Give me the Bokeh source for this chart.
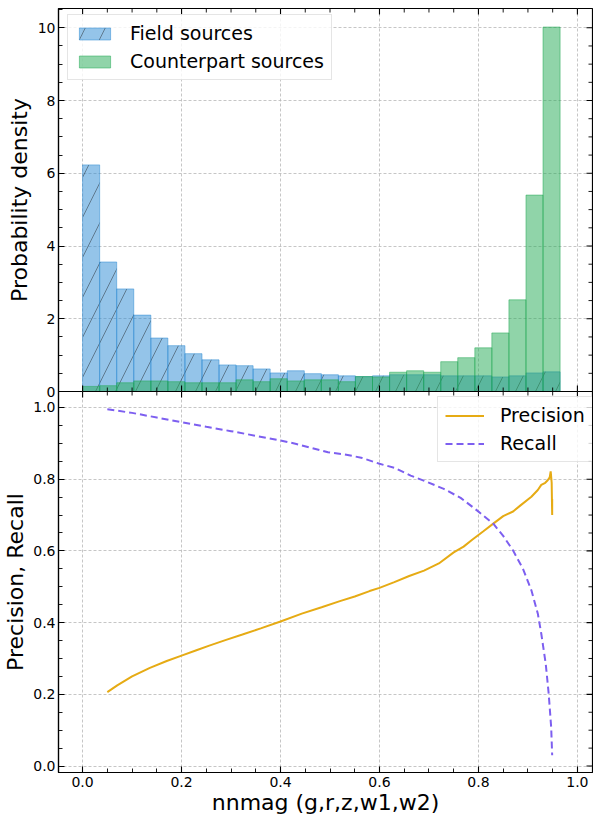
import math
from bokeh.plotting import figure
from bokeh.models import (Range1d, LinearAxis, Legend, LegendItem, Grid,
                          SingleIntervalTicker, FixedTicker, NumeralTickFormatter)
from bokeh.layouts import column
from bokeh.embed import file_html
from bokeh.resources import INLINE

# ---------------- data ----------------
bin_edges = [0.0, 0.0345, 0.0689, 0.1034, 0.1379, 0.1723, 0.2068, 0.2413,
             0.2757, 0.3102, 0.3446, 0.3791, 0.4136, 0.4480, 0.4825, 0.5170,
             0.5514, 0.5859, 0.6204, 0.6548, 0.6893, 0.7238, 0.7582, 0.7927,
             0.8271, 0.8616, 0.8961, 0.9305, 0.9650]
field_density = [6.23, 3.56, 2.82, 2.10, 1.47, 1.26, 1.04, 0.87, 0.73, 0.71,
                 0.62, 0.51, 0.57, 0.49, 0.46, 0.43, 0.41, 0.43, 0.46, 0.46,
                 0.46, 0.43, 0.43, 0.43, 0.40, 0.43, 0.51, 0.54]
counterpart_density = [0.14, 0.16, 0.24, 0.29, 0.29, 0.27, 0.24, 0.24, 0.24,
                       0.32, 0.27, 0.35, 0.29, 0.32, 0.32, 0.27, 0.41, 0.40,
                       0.53, 0.57, 0.53, 0.82, 0.93, 1.20, 1.61, 2.52, 5.40,
                       10.02]

prec_x = [0.050, 0.070, 0.100, 0.136, 0.170, 0.200, 0.230, 0.256, 0.290,
          0.323, 0.360, 0.400, 0.443, 0.483, 0.520, 0.550, 0.580, 0.600,
          0.630, 0.660, 0.690, 0.720, 0.750, 0.770, 0.788, 0.810, 0.830,
          0.850, 0.870, 0.885, 0.907, 0.920, 0.927, 0.935, 0.940, 0.944,
          0.946, 0.948, 0.949, 0.949]
prec_y = [0.206, 0.225, 0.250, 0.274, 0.293, 0.308, 0.323, 0.336, 0.352,
          0.367, 0.384, 0.403, 0.425, 0.443, 0.460, 0.473, 0.488, 0.497,
          0.513, 0.530, 0.545, 0.565, 0.596, 0.612, 0.632, 0.655, 0.676,
          0.697, 0.710, 0.727, 0.751, 0.770, 0.784, 0.790, 0.797, 0.805,
          0.822, 0.790, 0.700, 0.745]

rec_x = [0.050, 0.100, 0.150, 0.200, 0.250, 0.300, 0.350, 0.400, 0.430,
         0.496, 0.530, 0.563, 0.600, 0.630, 0.663, 0.697, 0.730, 0.764,
         0.797, 0.830, 0.850, 0.870, 0.890, 0.907, 0.920, 0.927, 0.936,
         0.942, 0.947, 0.949]
rec_y = [0.995, 0.985, 0.972, 0.959, 0.946, 0.934, 0.921, 0.908, 0.899,
         0.875, 0.869, 0.860, 0.843, 0.832, 0.810, 0.792, 0.773, 0.748,
         0.713, 0.676, 0.642, 0.601, 0.550, 0.490, 0.425, 0.369, 0.285,
         0.201, 0.108, 0.030]

# tick positions
x_major_ticks = [0.0, 0.2, 0.4, 0.6, 0.8, 1.0]
x_minor_ticks = [0.05, 0.1, 0.15, 0.25, 0.3, 0.35, 0.45, 0.5, 0.55, 0.65,
                 0.7, 0.75, 0.85, 0.9, 0.95]
top_y_major_ticks = [0, 2, 4, 6, 8, 10]
top_y_minor_ticks = [0.5, 1, 1.5, 2.5, 3, 3.5, 4.5, 5, 5.5, 6.5, 7, 7.5,
                     8.5, 9, 9.5]
bot_y_major_ticks = [0.0, 0.2, 0.4, 0.6, 0.8, 1.0]
bot_y_minor_ticks = [0.05, 0.1, 0.15, 0.25, 0.3, 0.35, 0.45, 0.5, 0.55,
                     0.65, 0.7, 0.75, 0.85, 0.9, 0.95]

# ---------------- style ----------------
FONT = "DejaVu Sans"
BLUE = "#2989d3"
GREEN = "#21a953"
GOLD = "#e6ab14"
PURPLE = "#7d5ff0"
MAJOR_LEN = 6
MINOR_LEN = 4
FIG_W = 593

X_START, X_END = -0.0487, 1.0305
TOP_Y = (0, 10.53)
BOT_Y = (-0.018, 1.0446)

x_range = Range1d(X_START, X_END)


def labeled_axis(p, side, interval, fmt, label, label_standoff, tick_standoff):
    t = SingleIntervalTicker(interval=interval, num_minor_ticks=4)
    ax = LinearAxis(ticker=t, formatter=NumeralTickFormatter(format=fmt))
    ax.axis_line_color = "black"
    ax.axis_line_width = 1.2
    ax.major_tick_line_color = "black"
    ax.minor_tick_line_color = "black"
    ax.major_tick_out = 0
    ax.minor_tick_out = 0
    ax.major_tick_in = MAJOR_LEN
    ax.minor_tick_in = MINOR_LEN
    ax.major_tick_line_width = 1.1
    ax.minor_tick_line_width = 0.9
    ax.major_label_text_font = FONT
    ax.major_label_text_font_size = "14px"
    ax.major_label_text_color = "black"
    ax.major_label_standoff = tick_standoff
    ax.axis_label = label
    ax.axis_label_text_font = FONT
    ax.axis_label_text_font_style = "normal"
    ax.axis_label_text_color = "black"
    ax.axis_label_text_font_size = "22px"
    ax.axis_label_standoff = label_standoff
    p.add_layout(ax, side)
    return ax


def edge_ticks(p, positions, along_x, edge_value, size, width):
    # inward tick marks on a frame edge (dash markers centred on the edge,
    # the outer half is clipped away by the frame)
    n = len(positions)
    if along_x:
        p.scatter(x=positions, y=[edge_value] * n, marker="dash",
                  angle=math.pi / 2, size=size, line_color="black",
                  line_width=width)
    else:
        p.scatter(x=[edge_value] * n, y=positions, marker="dash",
                  angle=0, size=size, line_color="black", line_width=width)


def make_fig(height, y_range, min_border_top, min_border_bottom):
    p = figure(width=FIG_W, height=height, x_range=x_range, y_range=y_range,
               output_backend="svg", toolbar_location=None,
               x_axis_type=None, y_axis_type=None,
               min_border_left=53, min_border_right=1,
               min_border_top=min_border_top,
               min_border_bottom=min_border_bottom)
    p.outline_line_color = "black"
    p.outline_line_width = 1.2
    return p


def add_grids(p, x_pos, y_pos):
    for dim, pos in ((0, x_pos), (1, y_pos)):
        g = Grid(dimension=dim, ticker=FixedTicker(ticks=pos))
        g.grid_line_color = "#b8b8b8"
        g.grid_line_dash = "3 2"
        g.grid_line_width = 0.8
        p.add_layout(g, "center")


def style_legend(leg):
    leg.padding = 7
    leg.spacing = 6
    leg.glyph_width = 39
    leg.glyph_height = 15
    leg.label_standoff = 16
    leg.label_text_font = FONT
    leg.label_text_font_size = "19px"
    leg.label_text_color = "black"
    leg.border_line_color = "#cccccc"
    leg.border_line_width = 1
    leg.background_fill_alpha = 0.8


# ---------------- top panel: histograms ----------------
top = make_fig(399, Range1d(*TOP_Y), 8, 8)
labeled_axis(top, "left", 2, "0", "Probability density", 3, 3)
add_grids(top, x_major_ticks, top_y_major_ticks)

field_r = top.quad(left=bin_edges[:-1], right=bin_edges[1:], bottom=0,
                   top=field_density, fill_color=BLUE, fill_alpha=0.5,
                   line_color=BLUE, line_alpha=0.5, line_width=1,
                   hatch_pattern="/", hatch_color="#1a1a1a", hatch_alpha=0.55,
                   hatch_weight=0.8, hatch_scale=40)
count_r = top.quad(left=bin_edges[:-1], right=bin_edges[1:], bottom=0,
                   top=counterpart_density, fill_color=GREEN, fill_alpha=0.5,
                   line_color=GREEN, line_alpha=0.5, line_width=1)

for pos, sz, w in ((x_major_ticks, 2 * MAJOR_LEN, 1.1), (x_minor_ticks, 2 * MINOR_LEN, 0.9)):
    edge_ticks(top, pos, True, TOP_Y[0], sz, w)
    edge_ticks(top, pos, True, TOP_Y[1], sz, w)
edge_ticks(top, top_y_major_ticks, False, X_END, 2 * MAJOR_LEN, 1.1)
edge_ticks(top, top_y_minor_ticks, False, X_END, 2 * MINOR_LEN, 0.9)

leg_top = Legend(items=[LegendItem(label="Field sources", renderers=[field_r]),
                        LegendItem(label="Counterpart sources", renderers=[count_r])],
                 location=(9, 311))
style_legend(leg_top)
top.add_layout(leg_top)

# ---------------- bottom panel: precision / recall ----------------
bot = make_fig(427, Range1d(*BOT_Y), 0, 46)
bot.border_fill_alpha = 0
bot.styles = {"margin-top": "-8px"}
labeled_axis(bot, "left", 0.2, "0.0", "Precision, Recall", 2, 3)
labeled_axis(bot, "below", 0.2, "0.0", "nnmag (g,r,z,w1,w2)", 0, 4)
add_grids(bot, x_major_ticks, bot_y_major_ticks)

edge_ticks(bot, x_major_ticks, True, BOT_Y[1], 2 * MAJOR_LEN, 1.1)
edge_ticks(bot, x_minor_ticks, True, BOT_Y[1], 2 * MINOR_LEN, 0.9)
edge_ticks(bot, bot_y_major_ticks, False, X_END, 2 * MAJOR_LEN, 1.1)
edge_ticks(bot, bot_y_minor_ticks, False, X_END, 2 * MINOR_LEN, 0.9)

prec_r = bot.line(prec_x, prec_y, line_color=GOLD, line_width=2)
rec_r = bot.line(rec_x, rec_y, line_color=PURPLE, line_width=2,
                 line_dash="7 4")

leg_bot = Legend(items=[LegendItem(label="Precision", renderers=[prec_r]),
                        LegendItem(label="Recall", renderers=[rec_r])],
                 location=(379, 310))
style_legend(leg_bot)
bot.add_layout(leg_bot)

layout = column(top, bot, spacing=0)
open("out.html", "w").write(file_html(layout, INLINE))
